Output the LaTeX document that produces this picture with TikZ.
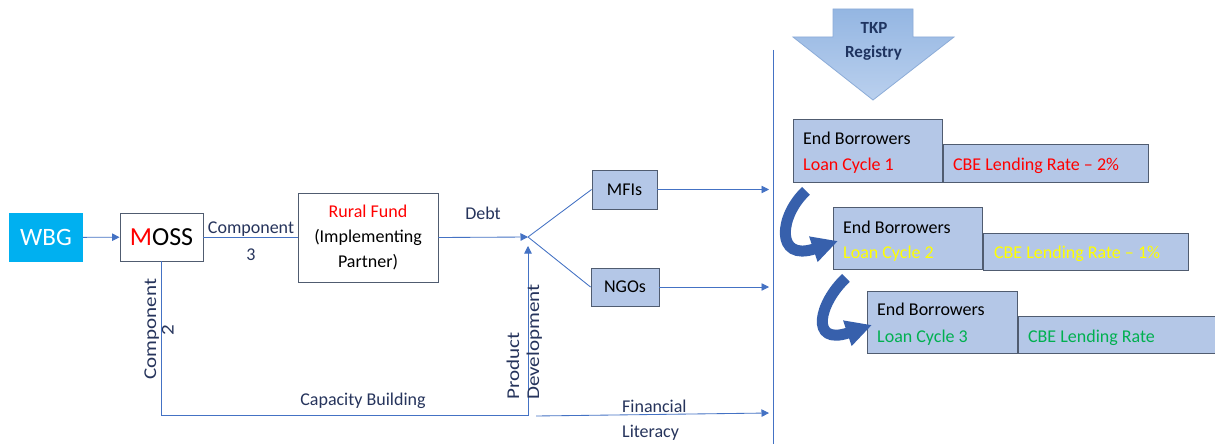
\documentclass[tikz,border=0pt]{standalone}
\usepackage{fontspec}
\setmainfont{Carlito}
\usepackage{graphicx}
\usetikzlibrary{arrows.meta,calc}
\definecolor{lineblue}{RGB}{68,114,196}
\definecolor{navytext}{RGB}{38,52,92}
\definecolor{boxgray}{RGB}{80,92,112}
\definecolor{lightfill}{RGB}{180,199,231}
\definecolor{wbgcyan}{RGB}{0,176,240}
\definecolor{curvblue}{RGB}{55,96,172}
\definecolor{tkpnavy}{RGB}{31,52,96}
\definecolor{tkptop}{RGB}{148,182,226}
\definecolor{tkpbot}{RGB}{186,208,238}
\definecolor{tkpedge}{RGB}{140,172,216}
\definecolor{cyel}{RGB}{255,255,0}
\definecolor{cgreen}{RGB}{0,176,80}
\definecolor{cred}{RGB}{255,0,0}
\begin{document}
\begin{tikzpicture}[x=1pt,y=-1pt,
  lbl/.style={font=\fontsize{18}{22}\selectfont, text=navytext, inner sep=0pt},
  txt/.style={font=\fontsize{18}{22}\selectfont, text=black, inner sep=0pt},
  ln/.style={draw=lineblue, line width=0.85pt},
  arr/.style={draw=lineblue, line width=0.85pt, -{Triangle[length=7.5pt,width=7.5pt]}},
  wbox/.style={draw=boxgray, line width=0.9pt, fill=white, inner sep=0pt},
  bbox/.style={draw=boxgray, line width=0.9pt, fill=lightfill, inner sep=0pt, font=\fontsize{18}{22}\selectfont},
  curv/.style={draw=curvblue, line width=11pt, -{Triangle[length=26pt,width=25pt]}}
]
\useasboundingbox (0,0) rectangle (1215,444);
\fill[white] (0,0) rectangle (1215,444);

% left side nodes
\node[fill=wbgcyan, inner sep=0pt, minimum width=74pt, minimum height=49pt,
      text=white, font=\fontsize{25}{30}\selectfont] (wbg) at (46,237.5) {WBG};
\node[wbox, minimum width=83pt, minimum height=48pt, font=\fontsize{26}{30}\selectfont]
      (moss) at (161.5,237) {\textcolor{cred}{M}OSS};
\node[wbox, minimum width=140pt, minimum height=89pt, align=center,
      font=\fontsize{18}{25}\selectfont] (rf) at (368,237.5)
      {\textcolor{cred}{Rural Fund}\\(Implementing\\Partner)};
\node[bbox, minimum width=65pt, minimum height=39pt] (mfi) at (624.5,189.5) {MFIs};
\node[bbox, minimum width=68pt, minimum height=38pt] (ngo) at (625,287) {NGOs};

\coordinate (j) at (528,237);
\coordinate (divtop) at (773,50);
\coordinate (divbot) at (773,444);
\coordinate (cb) at (528,415);
\coordinate (fl1) at (536,416);
\coordinate (fl2) at (769,413);
\coordinate (e1) at (769,189.5);
\coordinate (e2) at (769,287);

% connectors
\draw[arr] (wbg) -- (moss);
\draw[ln] (moss.east) -- (moss.east -| rf.west);
\draw[arr] (rf.east) -- (j);
\draw[ln] (j) -- (mfi.west);
\draw[ln] (j) -- (ngo.west);
\draw[arr] (mfi.east) -- (e1);
\draw[arr] (ngo.east) -- (e2);
\draw[arr] (moss.south) |- (cb) -- ($(j)+(0,9)$);
\draw[arr] (fl1) -- (fl2);
\draw[ln] (divtop) -- (divbot);

% labels
\node[lbl, anchor=base] (c3a) at (251,233) {Component};
\node[lbl, anchor=base] (c3b) at (251,260) {3};
\node[lbl, anchor=base] (debt) at (483,219) {Debt};
\node[lbl, anchor=base] (capb) at (363,405) {Capacity Building};
\node[lbl, anchor=base west] (fin1) at (622,412) {Financial};
\node[lbl, anchor=base west] (fin2) at (622,437) {Literacy};
\node[lbl, rotate=90, anchor=base] (c2a) at (156,329) {\scalebox{1.17}[1]{Component}};
\node[lbl, rotate=90, anchor=base] (c2b) at (173.5,330) {\scalebox{1.17}[1]{2}};
\node[lbl, rotate=90, anchor=base west] (pd1) at (519,400) {\scalebox{1.17}[1]{Product}};
\node[lbl, rotate=90, anchor=base west] (pd2) at (539,400) {\scalebox{1.17}[1]{Development}};

% TKP registry arrow
\path[draw=tkpedge, line width=0.8pt, top color=tkptop, bottom color=tkpbot]
  (833,9) -- (913,9) -- (913,37) -- (954,37) -- (873,100) -- (793,37) -- (833,37) -- cycle;
\node[font=\bfseries\fontsize{17}{22}\selectfont, text=tkpnavy, inner sep=0pt, anchor=base] (tkp1) at (874,33.5) {TKP};
\node[font=\bfseries\fontsize{17}{22}\selectfont, text=tkpnavy, inner sep=0pt, anchor=base] (tkp2) at (873.5,57.5) {Registry};

% borrower boxes
\node[bbox, anchor=north west, minimum width=149pt, minimum height=63pt] (b1) at (793,119) {};
\node[bbox, anchor=north west, minimum width=205pt, minimum height=38pt] (r1) at ($(b1.north east)+(0,25)$) {};
\node[bbox, anchor=north west, minimum width=149pt, minimum height=62pt] (b2) at (833,207) {};
\node[bbox, anchor=north west, minimum width=205pt, minimum height=37pt] (r2) at ($(b2.north east)+(0,26)$) {};
\node[bbox, anchor=north west, minimum width=150pt, minimum height=62pt] (b3) at (867,291) {};
\node[bbox, anchor=north west, minimum width=210pt, minimum height=37pt] (r3) at ($(b3.north east)+(0,25)$) {};

\node[txt, anchor=base west] (b1a) at ($(b1.north west)+(10,25)$) {End Borrowers};
\node[txt, anchor=base west, text=cred] (b1b) at ($(b1.north west)+(10,51)$) {Loan Cycle 1};
\node[txt, anchor=base west, text=cred] (r1a) at ($(r1.north west)+(10,26)$) {CBE Lending Rate – 2\%};
\node[txt, anchor=base west] (b2a) at ($(b2.north west)+(10,26)$) {End Borrowers};
\node[txt, anchor=base west, text=cyel] (b2b) at ($(b2.north west)+(10,51)$) {Loan Cycle 2};
\node[txt, anchor=base west, text=cyel] (r2a) at ($(r2.north west)+(11,25)$) {CBE Lending Rate – 1\%};
\node[txt, anchor=base west] (b3a) at ($(b3.north west)+(10,24)$) {End Borrowers};
\node[txt, anchor=base west, text=cgreen] (b3b) at ($(b3.north west)+(10,51)$) {Loan Cycle 3};
\node[txt, anchor=base west, text=cgreen] (r3a) at ($(r3.north west)+(10,26)$) {CBE Lending Rate};

% curved arrows
\draw[curv] ($(b1.south west)+(13,8)$) .. controls +(-27,25) and +(-63,21) .. ($(b2.north west)+(5,34)$);
\draw[curv] ($(b2.south west)+(13,8)$) .. controls +(-27,25) and +(-63,21) .. ($(b3.north west)+(5,34)$);
\end{tikzpicture}
\end{document}
